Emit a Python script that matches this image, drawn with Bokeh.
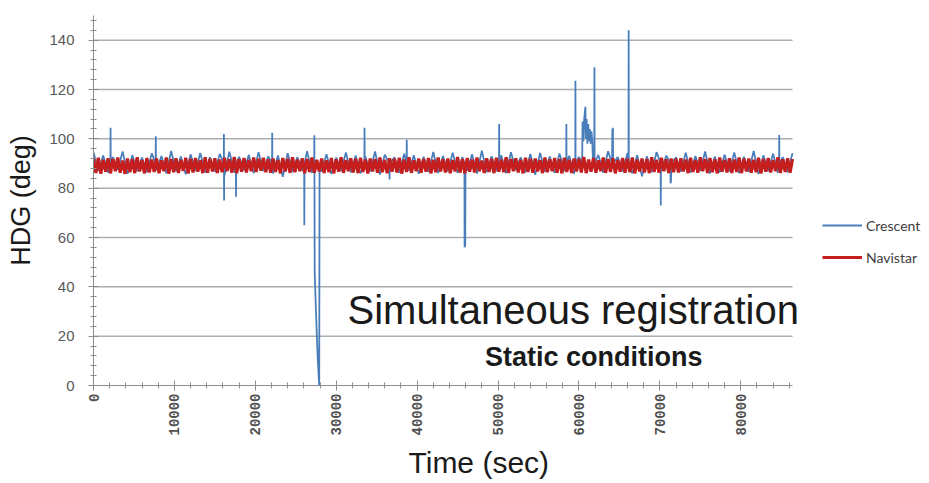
import numpy as np
from bokeh.plotting import figure
from bokeh.models import Range1d, SingleIntervalTicker, Label, Legend, LegendItem, ColumnDataSource, Title
from bokeh.embed import file_html
from bokeh.resources import INLINE

# ---------------- data ----------------
x_max = 86400
y_max = 150
y_grid_values = [20, 40, 60, 80, 100, 120, 140]

navistar_step = 300  # s
navistar_values = [
    91.8, 86.2, 92.3, 85.9, 91.5, 86.7, 92.1, 86.0, 91.9, 86.9, 92.4, 86.3, 91.2, 85.8, 92.0, 86.5, 91.7, 86.1, 92.5, 86.8, 91.4, 86.0, 92.2, 86.4,
    91.6, 86.6, 92.0, 86.1, 91.3, 86.9, 92.4, 85.9, 91.8, 86.5, 92.1, 86.2, 91.5, 87.0, 92.3, 86.0, 91.9, 86.4, 92.2, 86.7, 91.4, 86.1, 92.5, 86.3,
    91.9, 86.8, 92.1, 86.2, 91.6, 86.5, 92.3, 86.9, 91.7, 86.3, 92.6, 86.1, 91.8, 86.7, 92.2, 86.4, 91.5, 86.9, 92.4, 86.6, 91.9, 87.1, 92.3, 86.5,
    91.7, 86.3, 92.0, 86.6, 91.4, 86.0, 92.2, 86.8, 91.9, 86.2, 92.5, 86.5, 91.6, 86.9, 92.1, 86.1, 91.8, 86.6, 92.4, 86.3, 91.5, 86.8, 92.0, 86.2,
    91.3, 86.5, 92.2, 86.0, 91.7, 86.7, 92.5, 86.2, 91.4, 86.9, 92.1, 86.4, 91.9, 86.1, 92.3, 86.6, 91.6, 86.0, 92.0, 86.8, 91.8, 86.3, 92.4, 86.5,
    91.5, 86.1, 92.1, 86.7, 91.9, 86.4, 92.3, 85.9, 91.6, 86.6, 92.5, 86.2, 91.3, 86.9, 92.0, 86.3, 91.8, 86.7, 92.2, 86.0, 91.5, 86.5, 92.4, 86.8,
    91.7, 86.4, 92.0, 86.1, 91.4, 86.8, 92.6, 86.3, 91.8, 86.0, 92.2, 86.7, 91.6, 86.4, 92.4, 86.9, 91.2, 86.2, 92.1, 86.6, 91.9, 86.1, 92.3, 86.7,
    91.6, 86.5, 92.5, 86.2, 91.8, 86.9, 92.1, 86.4, 91.5, 86.0, 92.3, 86.6, 91.9, 86.3, 92.0, 86.8, 91.4, 86.1, 92.4, 86.5, 91.7, 86.9, 92.2, 86.3,
    91.8, 86.0, 92.3, 86.6, 91.5, 86.2, 92.0, 86.8, 91.9, 86.4, 92.6, 86.1, 91.6, 86.7, 92.2, 86.3, 91.3, 86.9, 92.4, 86.2, 91.8, 86.6, 92.1, 86.0,
    91.4, 86.7, 92.2, 86.3, 91.9, 86.5, 92.4, 86.0, 91.6, 86.8, 92.0, 86.4, 91.8, 86.1, 92.5, 86.6, 91.5, 86.3, 92.3, 86.9, 91.7, 86.2, 92.0, 86.5,
    91.9, 86.4, 92.1, 86.8, 91.6, 86.1, 92.3, 86.6, 91.4, 86.3, 92.5, 86.9, 91.8, 86.2, 92.2, 86.5, 91.7, 86.0, 92.4, 86.7, 91.5, 86.4, 92.1, 86.2,
    91.6, 86.6, 92.4, 86.1, 91.9, 86.8, 92.0, 86.3, 91.5, 86.5, 92.3, 86.0, 91.8, 86.7, 92.2, 86.4, 91.4, 86.9, 92.5, 86.2, 91.7, 86.6, 92.1, 86.3,
    91.8,
]

crescent_step = 600  # s
crescent_base = [
    94.6, 87.1, 93.2, 86.2, 92.6, 87.4, 94.9, 85.8, 93.4, 86.9, 92.4, 86.5, 94.1, 87.2, 93.0, 86.0, 95.1, 86.8, 92.8, 85.6, 93.7, 87.0, 94.3, 86.4,
    92.5, 86.7, 93.9, 85.2, 94.8, 86.3, 92.7, 87.3, 93.5, 86.1, 94.6, 86.9, 92.9, 85.9, 93.3, 84.6, 94.2, 86.6, 92.6, 87.1, 95.0, 86.2, 93.1, 86.8,
    93.8, 85.7, 92.4, 87.0, 94.5, 86.4, 93.2, 86.0, 92.8, 86.7, 94.9, 85.5, 93.6, 86.9, 92.5, 86.3, 94.0, 87.2, 93.3, 85.8, 92.7, 86.6, 94.7, 86.1,
    93.0, 86.8, 94.4, 86.2, 92.6, 87.1, 93.7, 85.9, 95.2, 86.5, 92.9, 86.9, 93.4, 86.0, 94.6, 87.3, 92.5, 86.4, 93.9, 85.4, 94.3, 86.7, 92.8, 86.2,
    94.1, 86.9, 93.1, 85.8, 92.7, 86.6, 94.8, 87.0, 93.5, 86.3, 95.0, 85.1, 92.6, 86.8, 94.2, 86.0, 93.4, 84.8, 92.9, 86.5, 94.6, 87.2, 93.2, 86.1,
    92.5, 86.7, 94.4, 86.3, 93.0, 87.0, 94.9, 85.9, 92.8, 86.4, 93.6, 86.8, 94.5, 86.1, 92.7, 86.6, 95.1, 85.7, 93.3, 86.9, 94.0, 86.2, 92.6, 86.5,
    94.2,
]

crescent_spike_t = [
    2090, 2110, 2130,
    7680, 7700, 7720,
    16100, 16120, 16140, 16160,
    17600, 17620, 17640,
    22070, 22090, 22110,
    26040, 26060, 26080,
    27280, 27300, 27340, 27500, 27700, 27900, 27940,
    33480, 33500, 33520,
    36580, 36600, 36620,
    38700, 38720, 38740,
    45850, 45870, 45950, 45980,
    50120, 50140, 50160,
    58430, 58450, 58470,
    59550, 59570, 59590,
    60400, 60450, 60550, 60650, 60800, 60850, 60950, 61050, 61150, 61250, 61350, 61450, 61550, 61650, 61750,
    61900, 61920, 61940,
    64100, 64130, 64170, 64200, 64230,
    66130, 66150, 66170,
    70100, 70120, 70140,
    71300, 71330, 71380, 71420,
    84740, 84760, 84780,
]
crescent_spike_v = [
    90, 104.5, 90,
    90, 101, 90,
    90, 102, 75, 90,
    90, 76.5, 90,
    90, 102.5, 90,
    90, 65, 90,
    90, 101.5, 46, 30, 12, 0, 88,
    90, 104.5, 90,
    90, 83.5, 90,
    90, 99.6, 90,
    90, 56, 57, 90,
    90, 106, 90,
    90, 106, 90,
    90, 123.5, 90,
    90, 107, 99, 108, 113, 100, 108, 98, 106, 99, 104, 98, 103, 99, 90,
    90, 129, 90,
    90, 104, 97, 104.5, 90,
    90, 144, 90,
    90, 73, 90,
    90, 82, 83, 90,
    90, 101.6, 90,
]

y_label = "HDG (deg)"
x_label = "Time (sec)"
series_names = ["Crescent", "Navistar"]
series_colors = ["#4a7ebb", "#c41e1e"]
annot_main = "Simultaneous registration"
annot_sub = "Static conditions"

# ---------------- build series tables ----------------
nav_t = np.arange(len(navistar_values)) * navistar_step
cre_bt = np.arange(len(crescent_base)) * crescent_step
st = np.array(crescent_spike_t)
keep = np.ones(len(cre_bt), dtype=bool)
for a, b in zip(st[:-1], st[1:]):
    if b - a <= 400:
        keep &= ~((cre_bt >= a) & (cre_bt <= b))
ct = np.concatenate([cre_bt[keep], st])
cv = np.concatenate([np.array(crescent_base)[keep], np.array(crescent_spike_v)])
order = np.argsort(ct, kind="stable")
cre_src = ColumnDataSource(dict(t=ct[order], v=cv[order]))
nav_src = ColumnDataSource(dict(t=nav_t, v=navistar_values))
grid_src = ColumnDataSource(dict(x0=[0] * len(y_grid_values), x1=[x_max] * len(y_grid_values),
                                 y=y_grid_values))

# ---------------- figure ----------------
# frame spans the legend area too; the time axis itself is bounded to [0, x_max]
W, H = 929, 483
left, top, bottom = 93, 15, 98
axis_px = 699  # pixel length of the 0..x_max time axis
x_view_max = x_max * (W - left) / axis_px

p = figure(width=W, height=H, output_backend="svg", toolbar_location=None,
           x_range=Range1d(0, x_view_max), y_range=Range1d(0, y_max),
           min_border_left=left, min_border_right=0, min_border_top=top, min_border_bottom=bottom)
p.outline_line_color = None
p.background_fill_color = "white"
p.border_fill_color = "white"

p.xgrid.visible = False
p.ygrid.visible = False
p.segment(x0="x0", x1="x1", y0="y", y1="y", source=grid_src, line_color="#a8aeb2", line_width=1.5)

p.xaxis.ticker = SingleIntervalTicker(interval=10000, num_minor_ticks=5)
p.yaxis.ticker = SingleIntervalTicker(interval=20, num_minor_ticks=5)
p.xaxis.bounds = (0, x_max)

for ax in (p.xaxis[0], p.yaxis[0]):
    ax.axis_line_color = "#8c8c8c"
    ax.major_tick_line_color = "#8c8c8c"
    ax.minor_tick_line_color = "#8c8c8c"
    ax.major_tick_in = 5
    ax.major_tick_out = 5
    ax.minor_tick_in = 3
    ax.minor_tick_out = 3

p.xaxis.major_label_orientation = np.pi / 2
p.xaxis.major_label_text_font = "Liberation Mono"
p.xaxis.major_label_text_font_size = "14px"
p.xaxis.major_label_text_font_style = "bold"
p.xaxis.major_label_text_color = "#505050"
p.xaxis.major_label_standoff = 3

p.yaxis.major_label_text_font = "Liberation Sans"
p.yaxis.major_label_text_font_size = "15px"
p.yaxis.major_label_text_color = "#595959"
p.yaxis.major_label_standoff = 14
p.yaxis.axis_label = y_label
p.yaxis.axis_label_text_font = "Liberation Sans"
p.yaxis.axis_label_text_font_size = "27px"
p.yaxis.axis_label_text_font_style = "normal"
p.yaxis.axis_label_text_color = "#1a1a1a"
p.yaxis.axis_label_standoff = 10

r_cre = p.line("t", "v", source=cre_src, line_color=series_colors[0], line_width=1.8)
r_nav = p.line("t", "v", source=nav_src, line_color=series_colors[1], line_width=3.2)

legend = Legend(items=[LegendItem(label=series_names[0], renderers=[r_cre]),
                       LegendItem(label=series_names[1], renderers=[r_nav])],
                location=(729, 118), orientation="vertical",
                glyph_width=40, glyph_height=20, label_height=20, spacing=12,
                padding=0, margin=0, label_standoff=4,
                border_line_alpha=0, background_fill_alpha=0,
                label_text_font="Lato", label_text_font_size="14px", label_text_color="#404040")
p.add_layout(legend)

p.add_layout(Label(x=31400, y=30.8, text=annot_main, text_font="Liberation Sans",
                   text_font_size="40px", text_color="#1a1a1a", text_baseline="alphabetic"))
p.add_layout(Label(x=48400, y=11.7, text=annot_sub, text_font="Liberation Sans",
                   text_font_size="27px", text_font_style="bold", text_color="#1a1a1a",
                   text_baseline="alphabetic"))

p.add_layout(Title(text=x_label, align="left", offset=315, standoff=10,
                   text_font="Liberation Sans",
                   text_font_size="30px", text_font_style="normal", text_color="#1a1a1a"), "below")

open("out.html", "w").write(file_html(p, INLINE))
